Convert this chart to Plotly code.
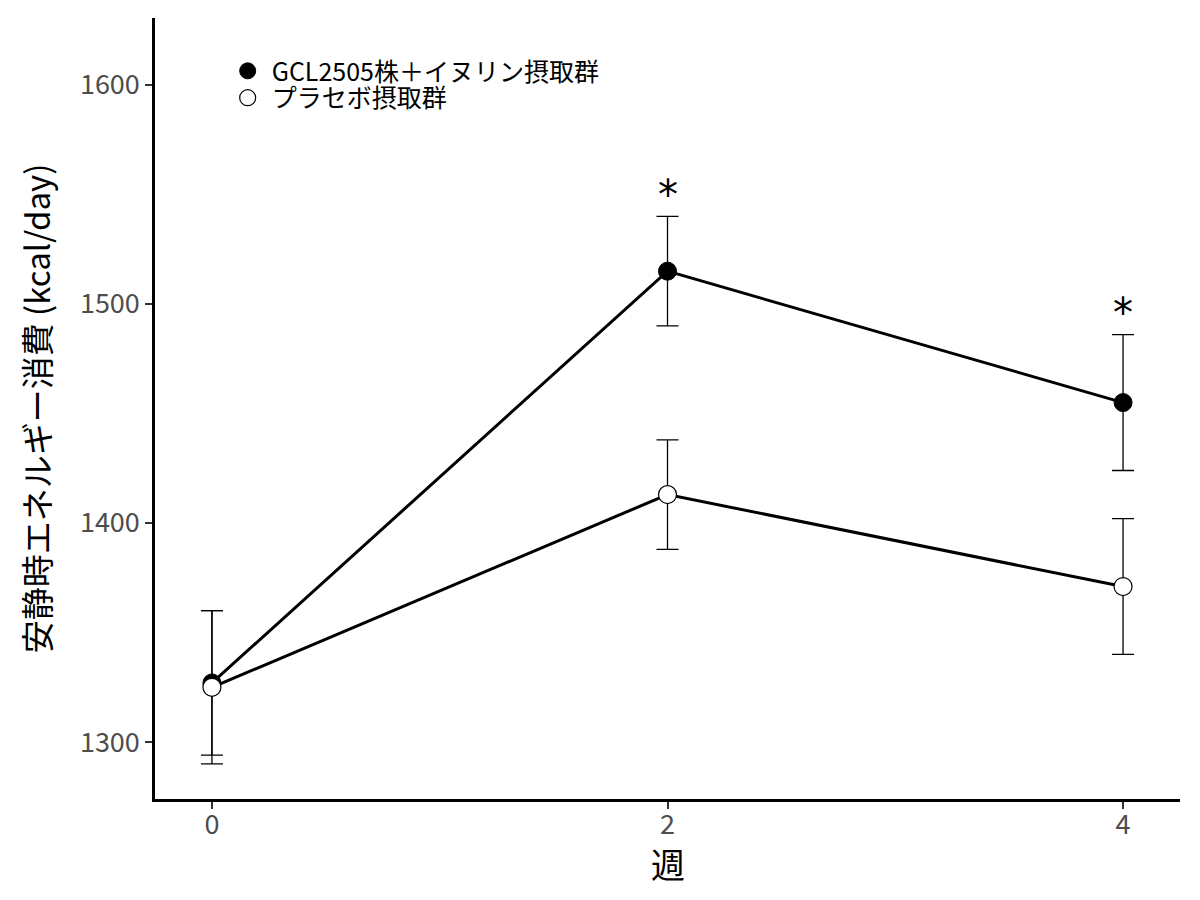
import plotly.graph_objects as go

# 週
semanas = [0, 2, 4]

# GCL2505株＋イヌリン摂取群
gcl_media = [1327, 1515, 1455]
gcl_error = [33, 25, 31]

# プラセボ摂取群
placebo_media = [1325, 1413, 1371]
placebo_error = [35, 25, 31]

# 有意差の印
asterisco_x = [2, 4]
asterisco_y = [1550, 1496]

fuente = "Noto Sans CJK JP, Noto Sans, sans-serif"

fig = go.Figure()

# líneas con barras de error
fig.add_trace(go.Scatter(
    x=semanas, y=gcl_media,
    mode="lines+markers",
    line=dict(color="black", width=3),
    marker=dict(color="black", size=18, symbol="circle", line=dict(color="black", width=1)),
    error_y=dict(type="data", array=gcl_error, visible=True, color="black", thickness=1.3, width=11),
    showlegend=False,
))
fig.add_trace(go.Scatter(
    x=semanas, y=placebo_media,
    mode="lines+markers",
    line=dict(color="black", width=3),
    marker=dict(color="white", size=18, symbol="circle", line=dict(color="black", width=1.2)),
    error_y=dict(type="data", array=placebo_error, visible=True, color="black", thickness=1.3, width=11),
    showlegend=False,
))

# leyenda solo con marcadores (dos leyendas para controlar el espaciado)
fig.add_trace(go.Scatter(
    x=[None], y=[None], mode="markers",
    marker=dict(color="black", size=18, line=dict(color="black", width=1)),
    name="GCL2505株＋イヌリン摂取群",
    legend="legend",
))
fig.add_trace(go.Scatter(
    x=[None], y=[None], mode="markers",
    marker=dict(color="white", size=18, line=dict(color="black", width=1.2)),
    name="プラセボ摂取群",
    legend="legend2",
))

# asteriscos
for xa, ya in zip(asterisco_x, asterisco_y):
    fig.add_annotation(x=xa, y=ya, text="*", showarrow=False, yanchor="middle",
                       font=dict(family="DejaVu Sans", size=40, color="black"))

# título del eje x
fig.add_annotation(x=0.5, y=-0.083, xref="paper", yref="paper", text="週",
                   showarrow=False, yanchor="middle",
                   font=dict(family=fuente, size=34, color="black"))

leyenda_base = dict(
    xanchor="left", yanchor="middle",
    font=dict(size=25, color="black"),
    bgcolor="rgba(0,0,0,0)",
    itemwidth=38,
)

fig.update_layout(
    width=1200, height=900,
    margin=dict(l=147, r=28, t=10, b=109),
    plot_bgcolor="white",
    paper_bgcolor="white",
    font=dict(family=fuente, color="black"),
    legend=dict(x=0.067, y=0.932, **leyenda_base),
    legend2=dict(x=0.067, y=0.8976, **leyenda_base),
    xaxis=dict(
        range=[-0.25, 4.25],
        tickvals=semanas,
        ticktext=[str(s) for s in semanas],
        showgrid=False, zeroline=False,
        showline=True, linecolor="black", linewidth=2.5,
        ticks="outside", ticklen=7, tickwidth=2, tickcolor="#333333",
        tickfont=dict(size=27, color="#4d4d4d"),
        ticklabelstandoff=-7,
    ),
    yaxis=dict(
        range=[1274, 1630.6],
        tickvals=[1300, 1400, 1500, 1600],
        showgrid=False, zeroline=False,
        showline=True, linecolor="black", linewidth=2.5,
        ticks="outside", ticklen=7, tickwidth=2, tickcolor="#333333",
        tickfont=dict(size=27, color="#4d4d4d"),
        title=dict(text="安静時エネルギー消費 (kcal/day)", font=dict(size=33, color="black"), standoff=20),
    ),
)

fig.write_html("out.html")
